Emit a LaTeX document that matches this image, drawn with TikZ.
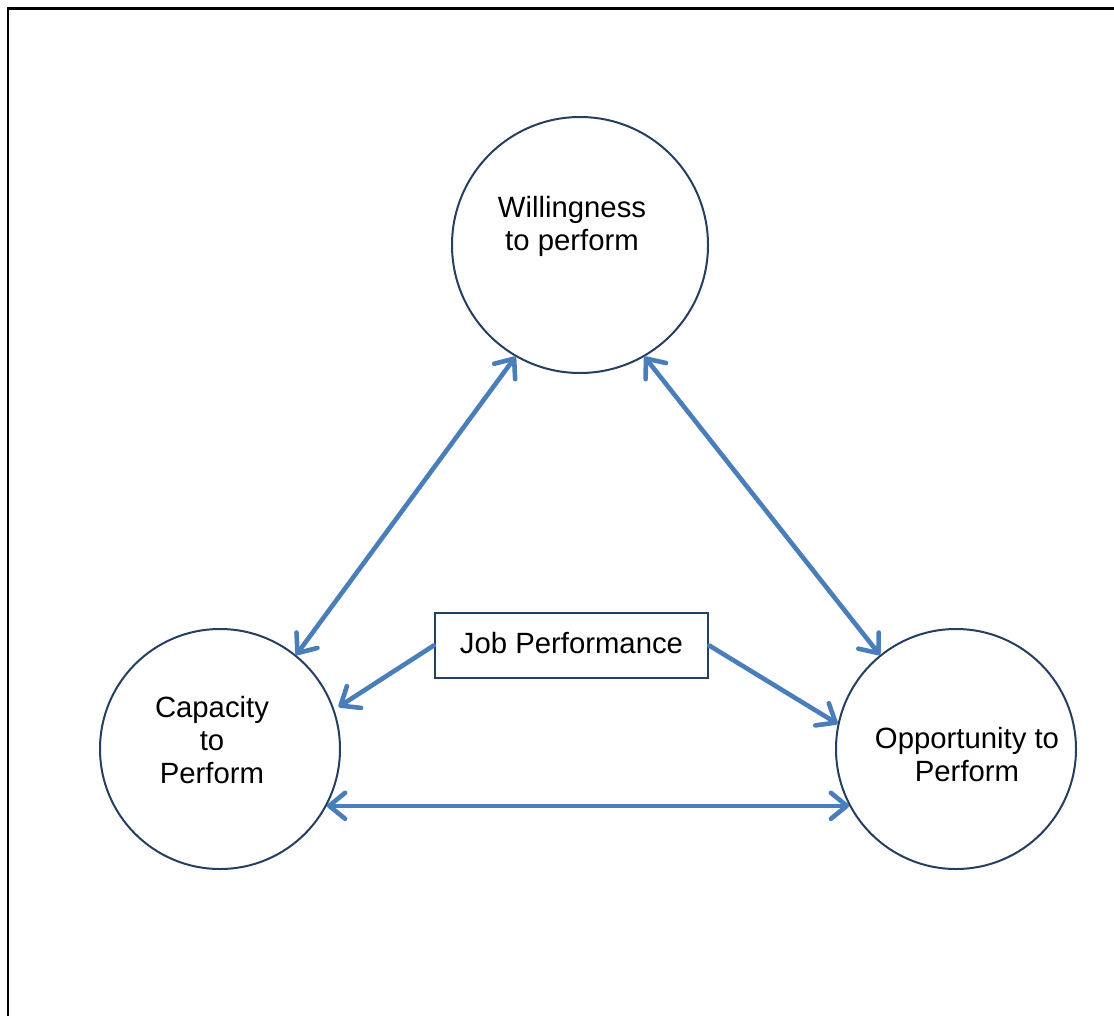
\documentclass[tikz,border=0pt]{standalone}
\usepackage{fontspec}
\setmainfont{Liberation Sans}
\usetikzlibrary{arrows.meta}
\definecolor{navy}{RGB}{36,63,96}
\definecolor{linkblue}{RGB}{74,126,187}
\tikzset{
  factor/.style={circle, draw=navy, line width=2pt, minimum size=#1, inner sep=0pt},
  caption/.style={align=center, font=\fontsize{29.3}{33}\selectfont, inner sep=0pt},
  link/.style={draw=linkblue, line width=4.6pt, line cap=round},
  barb/.tip={Straight Barb[round, length=16pt, width=26pt]},
  tipped/.style={link, -barb},
  twoway/.style={link, barb-barb},
  centerbox/.style={draw=navy, line width=2.5pt, minimum width=273pt, minimum height=65pt, inner sep=0pt}
}
\begin{document}
\begin{tikzpicture}[x=1pt,y=-1pt]
\useasboundingbox (0,0) rectangle (1114,1015);
% outer frame (top and left edges)
\draw[line width=2.5pt] (8,1020) -- (8,8.7) -- (1120,8.7);

% the three factors
\node[factor=256pt] (will) at (580,245) {};
\node[factor=240pt] (cap) at (220,749) {};
\node[factor=240pt] (opp) at (956,749) {};

\node[caption] (willtxt) at (572,226) {Willingness\\to perform};
\node[caption] (captxt) at (212,740) {Capacity\\to\\Perform};
\node[caption] (opptxt) at (967,755) {Opportunity to\\Perform};

% central box
\node[centerbox] (jp) at (571.5,645.5) {};
\node[caption] (jptxt) at (571.5,643) {Job Performance};

% links between factors
\draw[twoway] (will.240) -- (cap.51);
\draw[twoway] (will.300) -- (opp.129);
\draw[twoway] (cap.-28) -- (opp.208);

% links from the box
\draw[tipped, shorten >=5pt] (jp.west) -- (cap.19);
\draw[tipped] (jp.east) -- (opp.168);
\end{tikzpicture}
\end{document}
